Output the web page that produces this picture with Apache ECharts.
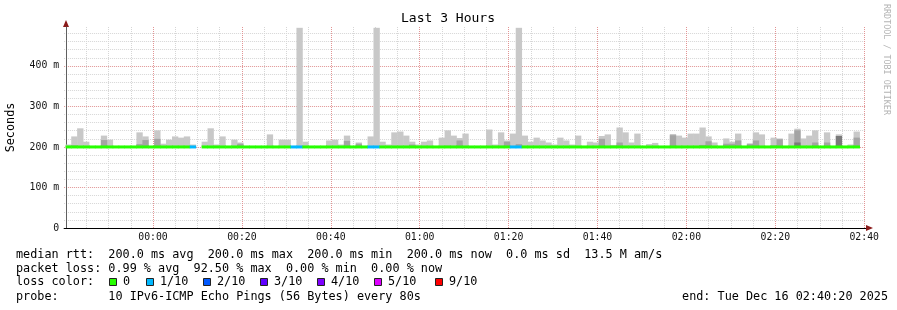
<!DOCTYPE html>
<html><head><meta charset="utf-8">
<script src="https://cdn.jsdelivr.net/npm/echarts@6/dist/echarts.min.js"></script>
<style>html,body{margin:0;padding:0;background:#fff}#c{width:897px;height:310px}</style>
</head><body><div id="c"></div>
<script>
// ---- tick labels (x in minutes relative to 00:00) ----
const xTickValues = [0, 20, 40, 60, 80, 100, 120, 140, 160];
const xTickLabels = ['00:00', '00:20', '00:40', '01:00', '01:20', '01:40', '02:00', '02:20', '02:40'];
const yTickValues = [0, 100, 200, 300, 400];
const yTickLabels = ['0', '100 m', '200 m', '300 m', '400 m'];

// ---- time range: 23:40:20 .. 02:40:20, 80 s steps ----
const RANGE_START = -19.667;
const RANGE_END = 160.333;
const FIRST_STEP = -19.733;
const STEP_MIN = 80 / 60;

// ---- per-step values (ms), 134 steps ----
const median = [
  200,200,200,200,200,200,200,200,200,200,
  200,200,200,200,200,200,200,200,200,200,
  200,200,null,200,200,200,200,200,200,200,
  200,200,200,200,200,200,200,200,200,200,
  200,200,200,200,200,200,200,200,200,200,
  200,200,200,200,200,200,200,200,200,200,
  200,200,200,200,200,200,200,200,200,200,
  200,200,200,200,200,200,200,200,200,200,
  200,200,200,200,200,200,200,200,200,200,
  200,200,200,200,200,200,200,200,200,200,
  200,200,200,200,200,200,200,200,200,200,
  200,200,200,200,200,200,200,200,200,200,
  200,200,200,200,200,200,200,200,200,200,
  200,200,200,200
];
// lost pings out of 10 (index into lossColors)
const loss = [
  0,0,0,0,0,0,0,0,0,0,
  0,0,0,0,0,0,0,0,0,0,
  0,1,null,0,0,0,0,0,0,0,
  0,0,0,0,0,0,0,0,1,1,
  0,0,0,0,0,0,0,0,0,0,
  0,1,1,0,0,0,0,0,0,0,
  0,0,0,0,0,0,0,0,0,0,
  0,0,0,0,0,1,1,0,0,0,
  0,0,0,0,0,0,0,0,0,0,
  0,0,0,0,0,0,0,0,0,0,
  0,0,0,0,0,0,0,0,0,0,
  0,0,0,0,0,0,0,0,0,0,
  0,0,0,0,0,0,0,0,0,0,
  0,0,0,0
];
// top of the light smoke band
const smokeMax = [
  206,226,246,213,null,null,228,218,null,null,
  null,null,236,226,null,241,208,218,226,223,
  226,206,null,213,246,206,226,null,218,211,
  null,null,null,null,231,null,218,218,null,494,
  213,null,null,null,216,218,206,228,null,211,
  null,226,494,213,206,236,238,228,213,206,
  213,216,null,223,241,228,222,233,null,null,
  null,243,206,236,216,233,494,228,213,223,
  216,211,206,223,216,206,228,null,213,211,
  227,231,205,248,236,211,233,null,207,210,
  null,null,232,228,223,233,233,248,226,211,
  null,221,213,233,null,209,236,231,null,223,
  221,null,233,245,221,228,241,null,236,null,
  231,null,206,238
];
// top of the medium smoke band
const smokeMid = [
  null,204,null,null,null,null,217,null,null,null,
  null,null,207,217,null,220,null,null,null,null,
  null,null,null,null,null,null,null,null,null,208,
  null,null,null,null,null,null,null,null,null,null,
  null,null,null,null,null,null,null,215,null,208,
  null,null,null,null,null,null,null,null,206,null,
  null,null,null,null,203,null,216,null,null,null,
  null,null,null,203,213,null,207,null,null,null,
  null,null,null,null,null,null,null,null,null,null,
  220,null,null,211,null,null,null,null,null,null,
  null,null,229,null,null,null,null,205,214,null,
  null,208,208,216,null,207,216,null,null,204,
  219,null,null,241,null,null,211,null,211,null,
  null,null,null,223
];
// darkest smoke band (sparse)
const smokeDarkStep = [123, 130];
const smokeDarkTop = [211, 227];

const lossColors = ['#26ff00', '#00b8ff', '#0059ff', '#5e00ff', '#7e00ff', '#dd00ff', '#ff0000'];
const lossLabels = ['0', '1/10', '2/10', '3/10', '4/10', '5/10', '9/10'];

const MONO = '"DejaVu Sans Mono", monospace';
const chart = echarts.init(document.getElementById('c'));

function stepStart(i) { return FIRST_STEP + i * STEP_MIN; }
function smokeItems(tops) {
  const out = [];
  tops.forEach((v, i) => { if (v != null && median[i] != null) out.push([stepStart(i), stepStart(i + 1), median[i], v]); });
  return out;
}
const darkItems = smokeDarkStep.map((s, j) => [stepStart(s), stepStart(s + 1), median[s], smokeDarkTop[j]]);
const medianItems = [];
median.forEach((v, i) => { if (v != null) medianItems.push([stepStart(i), stepStart(i + 1), v, loss[i]]); });

function smokeRender(color) {
  return function (params, api) {
    const t0 = Math.max(api.value(0), RANGE_START);
    const a = api.coord([t0, api.value(3)]);
    const b = api.coord([api.value(1), api.value(2)]);
    return { type: 'rect', shape: { x: a[0], y: a[1], width: b[0] - a[0] + 0.4, height: b[1] - a[1] }, style: { fill: color } };
  };
}
function smokeSeries(name, data, color) {
  return { type: 'custom', name, xAxisIndex: 1, yAxisIndex: 1, data, encode: { x: [0, 1], y: [2, 3] },
    renderItem: smokeRender(color), silent: true, animation: false };
}

const legendFont = '11.8px ' + MONO;
const graphics = [
  { type: 'text', x: 448, y: 19, style: { text: 'Last 3 Hours', font: '13px ' + MONO, fill: '#000', align: 'center', verticalAlign: 'middle' } },
  { type: 'text', x: 886, y: 4, rotation: -Math.PI / 2, style: { text: 'RRDTOOL / TOBI OETIKER', font: '8.4px ' + MONO, fill: '#b4b4b4', align: 'left', verticalAlign: 'middle' } },
  { type: 'text', x: 16, y: 255, style: { text: 'median rtt:  200.0 ms avg  200.0 ms max  200.0 ms min  200.0 ms now  0.0 ms sd  13.5 M am/s', font: legendFont, fill: '#000', verticalAlign: 'middle' } },
  { type: 'text', x: 16, y: 268.5, style: { text: 'packet loss: 0.99 % avg  92.50 % max  0.00 % min  0.00 % now', font: legendFont, fill: '#000', verticalAlign: 'middle' } },
  { type: 'text', x: 16, y: 282.3, style: { text: 'loss color:', font: legendFont, fill: '#000', verticalAlign: 'middle' } },
  { type: 'text', x: 16, y: 296.7, style: { text: 'probe:       10 IPv6-ICMP Echo Pings (56 Bytes) every 80s', font: legendFont, fill: '#000', verticalAlign: 'middle' } },
  { type: 'text', x: 888, y: 296.7, style: { text: 'end: Tue Dec 16 02:40:20 2025', font: legendFont, fill: '#000', align: 'right', verticalAlign: 'middle' } },
  { type: 'polygon', shape: { points: [[66, 20], [63, 27], [69, 27]] }, style: { fill: '#8b1a1a' } },
  { type: 'polygon', shape: { points: [[873, 228], [866, 225], [866, 231]] }, style: { fill: '#8b1a1a' } }
];
const boxX = [109, 146, 203, 260, 317, 374, 435];
lossColors.forEach((c, j) => {
  graphics.push({ type: 'rect', shape: { x: boxX[j] + 0.5, y: 278.5, width: 7, height: 7 }, style: { fill: c, stroke: '#222', lineWidth: 1 } });
  graphics.push({ type: 'text', x: boxX[j] + 14, y: 282.3, style: { text: lossLabels[j], font: legendFont, fill: '#000', verticalAlign: 'middle' } });
});

const minorLine = { show: true, showMinLine: false, showMaxLine: false, lineStyle: { color: '#d6d6d6', type: [1, 1], width: 1 } };
const majorLine = { show: true, showMinLine: false, showMaxLine: false, lineStyle: { color: 'rgba(255,0,0,0.3)', type: [1, 1], width: 1 } };

chart.setOption({
  animation: false,
  backgroundColor: '#fff',
  grid: { left: 64.1, top: 27, width: 801.6, height: 201, containLabel: false, outerBoundsMode: 'none' },
  xAxis: [
    { type: 'value', position: 'bottom', min: -20, max: RANGE_END, interval: 5,
      axisLine: { show: false }, axisTick: { show: false }, axisLabel: { show: false }, splitLine: minorLine },
    { type: 'value', position: 'bottom', min: -20, max: RANGE_END, interval: 20,
      axisLine: { show: true, onZero: false, lineStyle: { color: '#000', width: 1 } }, axisTick: { show: false },
      axisLabel: { margin: 4, fontFamily: MONO, fontSize: 9.8, color: '#111',
        formatter: v => { const j = xTickValues.findIndex(t => Math.abs(t - v) < 1e-6); return j < 0 ? '' : xTickLabels[j]; } },
      splitLine: majorLine }
  ],
  yAxis: [
    { type: 'value', position: 'left', offset: -2, min: 0, max: 496, interval: 20,
      axisLine: { show: false }, axisTick: { show: false }, axisLabel: { show: false }, splitLine: minorLine },
    { type: 'value', position: 'left', offset: -2, min: 0, max: 496, interval: 100,
      axisLine: { show: true, onZero: false, lineStyle: { color: '#606060', width: 1 } }, axisTick: { show: false },
      axisLabel: { margin: 7, fontFamily: MONO, fontSize: 9.8, color: '#111',
        formatter: v => { const j = yTickValues.findIndex(t => Math.abs(t - v) < 1e-6); return j < 0 ? '' : yTickLabels[j]; } },
      name: 'Seconds', nameLocation: 'middle', nameGap: 49, nameRotate: 90,
      nameTextStyle: { fontFamily: MONO, fontSize: 11.8, color: '#000' },
      splitLine: majorLine }
  ],
  series: [
    smokeSeries('smoke', smokeItems(smokeMax), '#c8c8c8'),
    smokeSeries('smokeMid', smokeItems(smokeMid), '#a4a4a4'),
    smokeSeries('smokeDark', darkItems, '#7a7a7a'),
    { type: 'custom', name: 'median', xAxisIndex: 1, yAxisIndex: 1, data: medianItems, encode: { x: [0, 1], y: [2] },
      silent: true, animation: false,
      renderItem: function (params, api) {
        const t0 = Math.max(api.value(0), RANGE_START);
        const a = api.coord([t0, api.value(2)]);
        const b = api.coord([api.value(1), api.value(2)]);
        return { type: 'rect', shape: { x: a[0], y: a[1] - 1.5, width: b[0] - a[0] + 0.5, height: 3 },
          style: { fill: lossColors[api.value(3)] } };
      } }
  ],
  graphic: graphics
});
</script>
</body></html>
